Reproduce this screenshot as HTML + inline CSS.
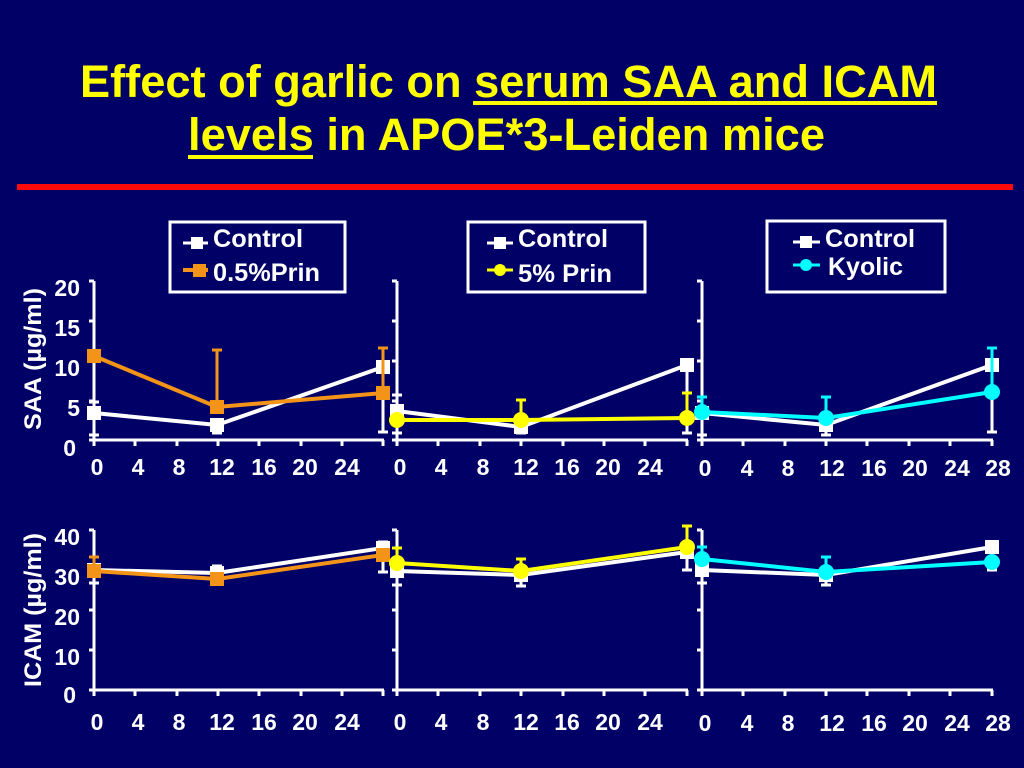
<!DOCTYPE html>
<html><head><meta charset="utf-8"><style>
html,body{margin:0;padding:0;background:#000066;}
svg{display:block;}
text{font-family:"Liberation Sans",Arial,sans-serif;font-weight:bold;}
</style></head><body>
<svg width="1024" height="768" viewBox="0 0 1024 768" xmlns="http://www.w3.org/2000/svg">
<rect x="0" y="0" width="1024" height="768" fill="#000066"/>
<!-- Title -->
<text x="80" y="97" font-size="45" fill="#ffff00" textLength="857" lengthAdjust="spacingAndGlyphs">Effect of garlic on serum SAA and ICAM</text>
<rect x="473" y="101" width="464" height="4" fill="#ffff00"/>
<text x="188" y="150" font-size="45" fill="#ffff00" textLength="637" lengthAdjust="spacingAndGlyphs">levels in APOE*3-Leiden mice</text>
<rect x="188" y="155" width="125" height="4" fill="#ffff00"/>
<rect x="17" y="184" width="996" height="6" fill="#ff0a0a"/>

<!-- Legends -->
<g fill="none" stroke="#fff" stroke-width="3">
<rect x="170" y="222" width="175" height="70"/>
<rect x="468" y="222" width="177" height="70"/>
<rect x="767" y="221" width="178" height="71"/>
</g>
<g font-size="25" fill="#fff">
<line x1="183" y1="243" x2="208" y2="243" stroke="#fff" stroke-width="3"/>
<rect x="191" y="237" width="12" height="12" fill="#fff"/>
<text x="213" y="247" textLength="90" lengthAdjust="spacingAndGlyphs">Control</text>
<line x1="183" y1="270" x2="208" y2="270" stroke="#f39418" stroke-width="4"/>
<rect x="193" y="264" width="13" height="13" fill="#f39418"/>
<text x="213" y="281" textLength="107" lengthAdjust="spacingAndGlyphs">0.5%Prin</text>

<line x1="487" y1="243" x2="513" y2="243" stroke="#fff" stroke-width="3"/>
<rect x="494" y="237" width="12" height="12" fill="#fff"/>
<text x="518" y="247" textLength="90" lengthAdjust="spacingAndGlyphs">Control</text>
<line x1="487" y1="270" x2="513" y2="270" stroke="#ffff00" stroke-width="3"/>
<circle cx="500" cy="270" r="6" fill="#ffff00"/>
<text x="518" y="282" textLength="94" lengthAdjust="spacingAndGlyphs">5% Prin</text>

<line x1="793" y1="242" x2="820" y2="242" stroke="#fff" stroke-width="3"/>
<rect x="800" y="236" width="12" height="12" fill="#fff"/>
<text x="825" y="247" textLength="90" lengthAdjust="spacingAndGlyphs">Control</text>
<line x1="793" y1="265" x2="820" y2="265" stroke="#00ffff" stroke-width="3"/>
<circle cx="806" cy="265" r="6" fill="#00ffff"/>
<text x="828" y="275" textLength="75" lengthAdjust="spacingAndGlyphs">Kyolic</text>
</g>

<!-- Y axis titles -->
<text transform="translate(41,359) rotate(-90)" text-anchor="middle" font-size="24" fill="#fff" textLength="142" lengthAdjust="spacingAndGlyphs">SAA (µg/ml)</text>
<text transform="translate(41,610) rotate(-90)" text-anchor="middle" font-size="24" fill="#fff" textLength="154" lengthAdjust="spacingAndGlyphs">ICAM (µg/ml)</text>

<!-- Y tick labels -->
<g font-size="23" fill="#fff" text-anchor="end">
<text x="80" y="296">20</text><text x="80" y="336">15</text><text x="80" y="376">10</text><text x="80" y="416">5</text><text x="76" y="456">0</text>
<text x="80" y="545">40</text><text x="80" y="585">30</text><text x="80" y="625">20</text><text x="80" y="665">10</text><text x="76" y="703">0</text>
</g>

<!-- X tick labels -->
<g font-size="23" fill="#fff" text-anchor="middle">
<text x="97" y="475">0</text><text x="138" y="475">4</text><text x="179" y="475">8</text><text x="222" y="475">12</text><text x="264" y="475">16</text><text x="305" y="475">20</text><text x="347" y="475">24</text>
<text x="400" y="475">0</text><text x="441" y="475">4</text><text x="483" y="475">8</text><text x="526" y="475">12</text><text x="567" y="475">16</text><text x="608" y="475">20</text><text x="650" y="475">24</text>
<text x="705" y="476">0</text><text x="747" y="476">4</text><text x="788" y="476">8</text><text x="832" y="476">12</text><text x="874" y="476">16</text><text x="915" y="476">20</text><text x="957" y="476">24</text><text x="998" y="476">28</text>
<text x="97" y="730">0</text><text x="138" y="730">4</text><text x="179" y="730">8</text><text x="222" y="730">12</text><text x="264" y="730">16</text><text x="305" y="730">20</text><text x="347" y="730">24</text>
<text x="400" y="730">0</text><text x="441" y="730">4</text><text x="483" y="730">8</text><text x="526" y="730">12</text><text x="567" y="730">16</text><text x="608" y="730">20</text><text x="650" y="730">24</text>
<text x="705" y="731">0</text><text x="747" y="731">4</text><text x="788" y="731">8</text><text x="832" y="731">12</text><text x="874" y="731">16</text><text x="915" y="731">20</text><text x="957" y="731">24</text><text x="998" y="731">28</text>
</g>

<!-- Axes -->
<g stroke="#fff" stroke-width="3" fill="none">
<!-- top panels -->
<path d="M94 281 V441 M89 440 H384 M89 281 H94 M89 321 H94 M89 361 H94 M89 401 H94 M94 440 v6 M135 440 v6 M177 440 v6 M218 440 v6 M259 440 v6 M301 440 v6 M342 440 v6 M383 440 v6"/>
<path d="M397 281 V441 M392 440 H688 M392 281 H397 M392 321 H397 M392 361 H397 M392 401 H397 M397 440 v6 M438 440 v6 M480 440 v6 M521 440 v6 M563 440 v6 M604 440 v6 M645 440 v6 M687 440 v6"/>
<path d="M702 281 V441 M697 440 H993 M697 281 H702 M697 321 H702 M697 361 H702 M697 401 H702 M702 440 v6 M743 440 v6 M785 440 v6 M826 440 v6 M867 440 v6 M909 440 v6 M950 440 v6 M992 440 v6"/>
<!-- bottom panels -->
<path d="M94 530 V691 M89 690 H384 M89 530 H94 M89 570 H94 M89 610 H94 M89 650 H94 M94 690 v6 M135 690 v6 M177 690 v6 M218 690 v6 M259 690 v6 M301 690 v6 M342 690 v6 M383 690 v6"/>
<path d="M397 530 V691 M392 690 H688 M392 530 H397 M392 570 H397 M392 610 H397 M392 650 H397 M397 690 v6 M438 690 v6 M480 690 v6 M521 690 v6 M563 690 v6 M604 690 v6 M645 690 v6 M687 690 v6"/>
<path d="M702 530 V691 M697 690 H993 M697 530 H702 M697 570 H702 M697 610 H702 M697 650 H702 M702 690 v6 M743 690 v6 M785 690 v6 M826 690 v6 M867 690 v6 M909 690 v6 M950 690 v6 M992 690 v6"/>
</g>

<!-- ===== Top panel 1 ===== -->
<g stroke="#fff" stroke-width="3" fill="none">
<path d="M94 402 V435 M89 402 H99 M89 435 H99"/>
<path d="M217 425 V433 M212 433 H222"/>
<path d="M383 367 V432 M378 432 H388"/>
</g>
<polyline points="94,413 217,425 383,367" fill="none" stroke="#fff" stroke-width="4"/>
<g fill="#fff"><rect x="87" y="406" width="14" height="14"/><rect x="210" y="418" width="14" height="14"/><rect x="376" y="360" width="14" height="14"/></g>
<g stroke="#f39418" stroke-width="3" fill="none">
<path d="M217 407 V350 M212 350 H222"/>
<path d="M383 393 V348 M378 348 H388"/>
</g>
<polyline points="94,356 217,407 383,393" fill="none" stroke="#f39418" stroke-width="4"/>
<g fill="#f39418"><rect x="87" y="349" width="14" height="14"/><rect x="210" y="400" width="14" height="14"/><rect x="376" y="386" width="14" height="14"/></g>

<!-- ===== Top panel 2 ===== -->
<g stroke="#fff" stroke-width="3" fill="none">
<path d="M397 395 V433 M392 395 H402 M392 433 H402"/>
<path d="M521 427 V433 M516 433 H526"/>
<path d="M687 365 V433 M682 433 H692"/>
</g>
<polyline points="397,411 521,427 687,365" fill="none" stroke="#fff" stroke-width="4"/>
<g fill="#fff"><rect x="390" y="404" width="14" height="14"/><rect x="514" y="420" width="14" height="14"/><rect x="680" y="358" width="14" height="14"/></g>
<g stroke="#ffff00" stroke-width="3" fill="none">
<path d="M521 420 V400 M516 400 H526"/>
<path d="M687 418 V393 M682 393 H692"/>
</g>
<polyline points="397,420 521,420 687,418" fill="none" stroke="#ffff00" stroke-width="4"/>
<g fill="#ffff00"><circle cx="397" cy="420" r="8"/><circle cx="521" cy="420" r="8"/><circle cx="687" cy="418" r="8"/></g>

<!-- ===== Top panel 3 ===== -->
<g stroke="#fff" stroke-width="3" fill="none">
<path d="M702 413 V435 M697 435 H707"/>
<path d="M826 425 V435 M821 435 H831"/>
<path d="M992 365 V432 M987 432 H997"/>
</g>
<polyline points="702,413 826,425 992,365" fill="none" stroke="#fff" stroke-width="4"/>
<g fill="#fff"><rect x="695" y="406" width="14" height="14"/><rect x="819" y="418" width="14" height="14"/><rect x="985" y="358" width="14" height="14"/></g>
<g stroke="#00ffff" stroke-width="3" fill="none">
<path d="M702 412 V397 M697 397 H707"/>
<path d="M826 418 V397 M821 397 H831"/>
<path d="M992 392 V348 M987 348 H997"/>
</g>
<polyline points="702,412 826,418 992,392" fill="none" stroke="#00ffff" stroke-width="4"/>
<g fill="#00ffff"><circle cx="702" cy="412" r="8"/><circle cx="826" cy="418" r="8"/><circle cx="992" cy="392" r="8"/></g>

<!-- ===== Bottom panel 1 ===== -->
<g stroke="#fff" stroke-width="3" fill="none">
<path d="M94 570 V583 M89 583 H99"/>
<path d="M217 573 V566 M212 566 H222"/>
<path d="M383 548 V572 M378 572 H388 M383 548 V542 M378 542 H388"/>
</g>
<polyline points="94,570 217,573 383,548" fill="none" stroke="#fff" stroke-width="4"/>
<g fill="#fff"><rect x="87" y="563" width="14" height="14"/><rect x="210" y="566" width="14" height="14"/><rect x="376" y="541" width="14" height="14"/></g>
<g stroke="#f39418" stroke-width="3" fill="none">
<path d="M94 571 V557 M89 557 H99"/>
</g>
<polyline points="94,571 217,579 383,555" fill="none" stroke="#f39418" stroke-width="4"/>
<g fill="#f39418"><rect x="87" y="564" width="14" height="14"/><rect x="210" y="572" width="14" height="14"/><rect x="376" y="548" width="14" height="14"/></g>

<!-- ===== Bottom panel 2 ===== -->
<g stroke="#fff" stroke-width="3" fill="none">
<path d="M397 571 V585 M392 585 H402"/>
<path d="M521 575 V586 M516 586 H526"/>
<path d="M687 552 V570 M682 570 H692"/>
</g>
<polyline points="397,571 521,575 687,552" fill="none" stroke="#fff" stroke-width="4"/>
<g fill="#fff"><rect x="390" y="564" width="14" height="14"/><rect x="514" y="568" width="14" height="14"/><rect x="680" y="545" width="14" height="14"/></g>
<g stroke="#ffff00" stroke-width="3" fill="none">
<path d="M397 563 V548 M392 548 H402"/>
<path d="M521 571 V559 M516 559 H526"/>
<path d="M687 547 V526 M682 526 H692"/>
</g>
<polyline points="397,563 521,571 687,547" fill="none" stroke="#ffff00" stroke-width="4"/>
<g fill="#ffff00"><circle cx="397" cy="563" r="8"/><circle cx="521" cy="571" r="8"/><circle cx="687" cy="547" r="8"/></g>

<!-- ===== Bottom panel 3 ===== -->
<g stroke="#fff" stroke-width="3" fill="none">
<path d="M702 570 V583 M697 583 H707"/>
<path d="M826 575 V585 M821 585 H831"/>
<path d="M992 562 V570 M987 570 H997"/>
</g>
<polyline points="702,570 826,575 992,547" fill="none" stroke="#fff" stroke-width="4"/>
<g fill="#fff"><rect x="695" y="563" width="14" height="14"/><rect x="819" y="568" width="14" height="14"/><rect x="985" y="540" width="14" height="14"/></g>
<g stroke="#00ffff" stroke-width="3" fill="none">
<path d="M702 559 V547 M697 547 H707"/>
<path d="M826 572 V557 M821 557 H831"/>
</g>
<polyline points="702,559 826,572 992,562" fill="none" stroke="#00ffff" stroke-width="4"/>
<g fill="#00ffff"><circle cx="702" cy="559" r="8"/><circle cx="826" cy="572" r="8"/><circle cx="992" cy="562" r="8"/></g>
</svg>
</body></html>
